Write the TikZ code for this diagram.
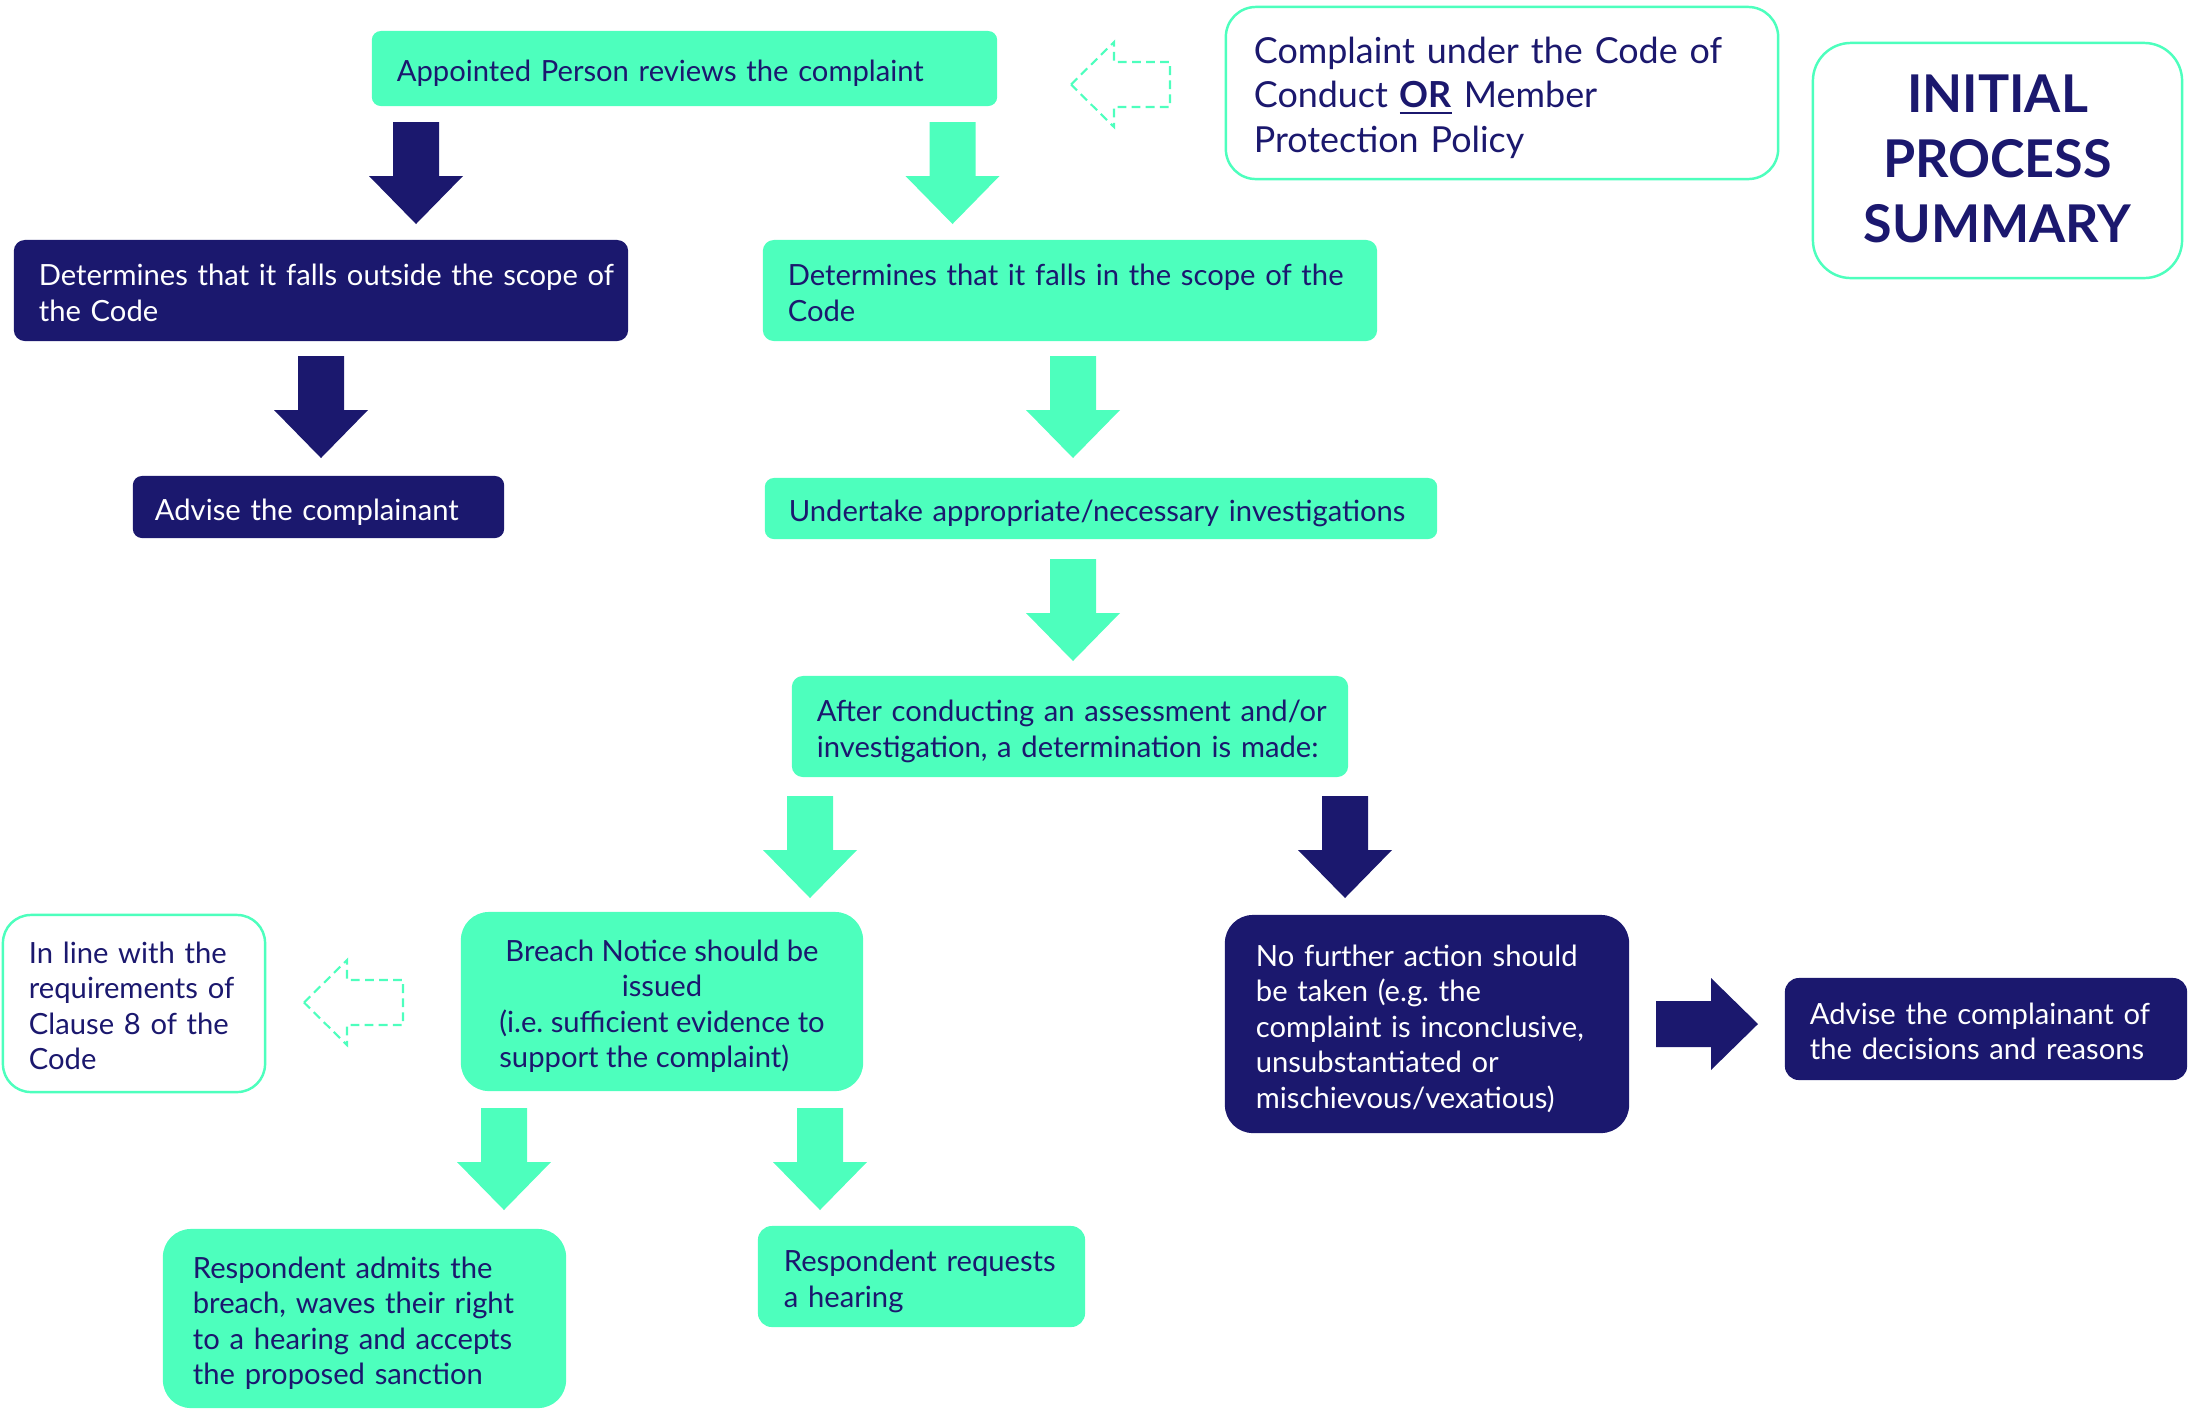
\documentclass[tikz,border=0pt]{standalone}
\usepackage{fontspec}
\setmainfont{Lato}
\definecolor{mint}{RGB}{77,255,189}
\definecolor{navy}{RGB}{27,24,110}
\newcommand\lns[1]{\raisebox{-0.06cm}[\height][\depth]{\begin{tabular}{@{}l@{}}#1\end{tabular}}}
\begin{document}
\begin{tikzpicture}[x=0.01cm, y=-0.01cm,
    box/.style={inner xsep=0.25cm, inner ysep=0, align=left, font=\fontsize{8.3}{10.1}\selectfont},
    mintbox/.style={box, fill=mint, text=navy},
    navybox/.style={box, fill=navy, text=white},
    openbox/.style={box, draw=mint, line width=0.7pt, fill=white, text=navy},
    downarr/.pic={\fill[#1] (-23,0) -- (23,0) -- (23,54) -- (47,54) -- (0,102) -- (-47,54) -- (-23,54) -- cycle;},
    rightarr/.pic={\fill[#1] (0,-23) -- (55,-23) -- (55,-46) -- (102,0) -- (55,46) -- (55,23) -- (0,23) -- cycle;},
    dashleft/.pic={\draw[mint, dashed, line width=0.6pt, dash pattern=on 2.5pt off 1.5pt] (0,0) -- (43,-42.5) -- (43,-22.5) -- (99,-22.5) -- (99,22.5) -- (43,22.5) -- (43,42.5) -- cycle;}]
    \useasboundingbox (0,0) rectangle (2190,1408);

    % top row
    \node[mintbox, rounded corners=0.09cm, text width=5.75cm, minimum height=0.75cm] (appt) at (684.5,68.5) {\lns{Appointed Person reviews the complaint}};
    \node[openbox, rounded corners=0.3cm, inner xsep=0.28cm, text width=4.96cm, minimum height=1.72cm, font=\fontsize{10.2}{12.7}\selectfont] (compl) at (1502,93)
        {\lns{Complaint under the Code of\\Conduct \underline{\textbf{OR}} Member\\Protection Policy}};
    \node[openbox, rounded corners=0.38cm, align=center, text width=3.19cm, minimum height=2.35cm, font=\fontsize{14.8}{18.4}\selectfont\bfseries] (title) at (1997.5,160.5)
        {\raisebox{-0.04cm}[\height][\depth]{\begin{tabular}{@{}c@{}}INITIAL\\PROCESS\\SUMMARY\end{tabular}}};
    \pic at (1071,84.5) {dashleft};

    % scope decision
    \pic at (416,122) {downarr=navy};
    \pic at (952.5,122) {downarr=mint};
    \node[navybox, rounded corners=0.11cm, text width=5.64cm, minimum height=1.01cm] (outside) at (321,290.5)
        {\lns{Determines that it falls outside the scope of\\the Code}};
    \node[mintbox, rounded corners=0.11cm, text width=5.64cm, minimum height=1.01cm] (inscope) at (1070,290.5)
        {\lns{Determines that it falls in the scope of the\\Code}};
    \pic at (321,356) {downarr=navy};
    \pic at (1073,356) {downarr=mint};
    \node[navybox, rounded corners=0.09cm, inner xsep=0.22cm, text width=3.27cm, minimum height=0.62cm] (advise) at (318.5,507) {\lns{Advise the complainant}};
    \node[mintbox, rounded corners=0.09cm, inner xsep=0.24cm, text width=6.24cm, minimum height=0.61cm] (undertake) at (1101,508.5) {\lns{Undertake appropriate/necessary investigations}};
    \pic at (1073,559) {downarr=mint};
    \node[mintbox, rounded corners=0.11cm, text width=5.06cm, minimum height=1.01cm] (after) at (1070,726.5)
        {\lns{After conducting an assessment and/or\\investigation, a determination is made:}};

    % determination
    \pic at (810,796) {downarr=mint};
    \pic at (1345,796) {downarr=navy};
    \node[mintbox, rounded corners=0.28cm, align=center, minimum width=4.02cm, minimum height=1.79cm] (breach) at (662,1001.5)
        {\raisebox{-0.06cm}[\height][\depth]{\begin{tabular}{@{}l@{}}\multicolumn{1}{@{}c@{}}{Breach Notice should be}\\ \multicolumn{1}{@{}c@{}}{issued}\\ (i.e.\ sufficient evidence to\\ support the complaint)\end{tabular}}};
    \node[openbox, rounded corners=0.28cm, inner xsep=0.26cm, text width=2.10cm, minimum height=1.77cm] (inline) at (134,1003.5)
        {\lns{In line with the\\requirements of\\Clause 8 of the\\Code}};
    \pic at (304,1002.5) {dashleft};
    \node[navybox, rounded corners=0.28cm, inner xsep=0.31cm, text width=3.42cm, minimum height=2.18cm] (nofurther) at (1427,1024)
        {\lns{No further action should\\be taken (e.g.\ the\\complaint is inconclusive,\\unsubstantiated or\\mischievous/vexatious)}};
    \pic at (1656,1024) {rightarr=navy};
    \node[navybox, rounded corners=0.14cm, text width=3.52cm, minimum height=1.02cm] (decisions) at (1986,1029)
        {\lns{Advise the complainant of\\the decisions and reasons}};

    % outcomes
    \pic at (504,1108) {downarr=mint};
    \pic at (820,1108) {downarr=mint};
    \node[mintbox, rounded corners=0.28cm, inner xsep=0.30cm, text width=3.43cm, minimum height=1.79cm] (admits) at (364.5,1318.5)
        {\lns{Respondent admits the\\breach, waves their right\\to a hearing and accepts\\the proposed sanction}};
    \node[mintbox, rounded corners=0.14cm, inner xsep=0.26cm, text width=2.75cm, minimum height=1.01cm] (requests) at (921.5,1276.5)
        {\lns{Respondent requests\\a hearing}};
\end{tikzpicture}
\end{document}
